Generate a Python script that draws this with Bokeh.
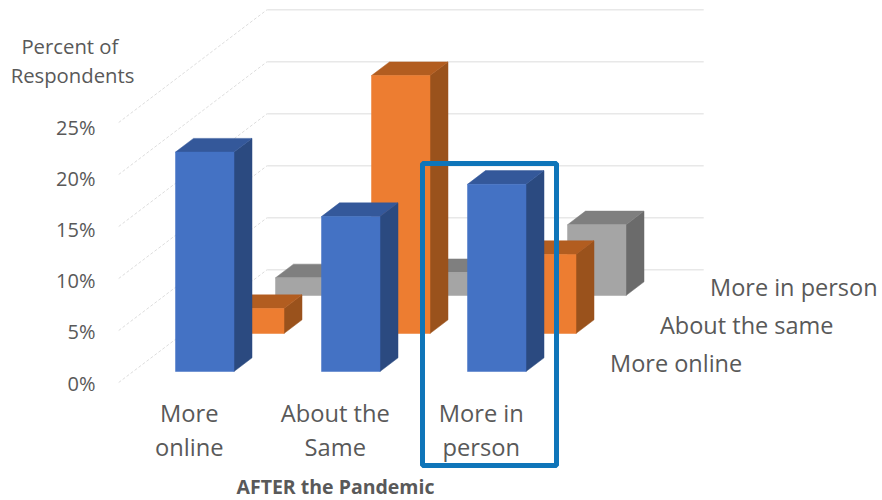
from bokeh.core.properties import value
from bokeh.embed import file_html
from bokeh.models import ColumnDataSource, FixedTicker, LinearAxis, Range1d
from bokeh.plotting import figure
from bokeh.resources import INLINE

# Survey results, percent of respondents
categories = ["More online", "About the Same", "More in person"]
category_line1 = ["More", "About the", "More in"]
category_line2 = ["online", "Same", "person"]
more_online = [21.1, 14.9, 18.0]
about_same = [2.4, 24.8, 7.6]
more_in_person = [1.7, 2.2, 6.8]
series_names = ["More online", "About the same", "More in person"]
percent_ticks = [0, 5, 10, 15, 20, 25]

FACE = ["#4472C4", "#ED7D31", "#A5A5A5"]
TOP = ["#34589A", "#B25D20", "#7F7F7F"]
SIDE = ["#2B4A80", "#9A521C", "#6B6B6B"]
TEXT = "#595959"
FONT = "Open Sans"

# Oblique projection: one category step, one percent and one depth row in pixels
CAT_PX, PCT_PX = 146.0, 10.4
ROW_DX, ROW_DY = 50.0 / CAT_PX, 38.0 / PCT_PX
BAR_W, BAR_D = 58.5 / CAT_PX, 0.36


def proj(cat, row, pct):
    return cat + row * ROW_DX, pct + row * ROW_DY


x_min, x_max = -175.0 / CAT_PX, 707.0 / CAT_PX
y_min, y_max = -129.0 / PCT_PX, 371.0 / PCT_PX

p = figure(width=882, height=500, output_backend="svg", toolbar_location=None,
           x_range=Range1d(x_min, x_max), y_range=Range1d(y_min, y_max),
           min_border=0, outline_line_color=None)
p.xaxis.visible = False
p.yaxis.visible = False
p.xgrid.visible = False
p.ygrid.visible = False

# Back wall gridlines and the receding lines on the side wall
WALL_FRONT, WALL_BACK = -0.29, 2.68
WALL_LEFT, WALL_RIGHT = -0.29, 2.70
for t in percent_ticks:
    x0, y0 = proj(WALL_LEFT, WALL_FRONT, t)
    x1, y1 = proj(WALL_LEFT, WALL_BACK, t)
    x2, y2 = proj(WALL_RIGHT, WALL_BACK, t)
    p.line([x0, x1], [y0, y1], line_color="#DDDDDD", line_width=1, line_dash="3 2")
    p.line([x1, x2], [y1, y2], line_color="#E8E8E8", line_width=1.5)

# Bars, painted from the rear row forward
rows = [more_online, about_same, more_in_person]
for row in [2, 1, 0]:
    xs_face, ys_face, xs_top, ys_top, xs_side, ys_side = [], [], [], [], [], []
    for cat, pct in enumerate(rows[row]):
        corners = [proj(cat, row, 0), proj(cat + BAR_W, row, 0),
                   proj(cat + BAR_W, row, pct), proj(cat, row, pct)]
        xs_face.append([c[0] for c in corners])
        ys_face.append([c[1] for c in corners])
        corners = [proj(cat, row, pct), proj(cat + BAR_W, row, pct),
                   proj(cat + BAR_W, row + BAR_D, pct), proj(cat, row + BAR_D, pct)]
        xs_top.append([c[0] for c in corners])
        ys_top.append([c[1] for c in corners])
        corners = [proj(cat + BAR_W, row, 0), proj(cat + BAR_W, row + BAR_D, 0),
                   proj(cat + BAR_W, row + BAR_D, pct), proj(cat + BAR_W, row, pct)]
        xs_side.append([c[0] for c in corners])
        ys_side.append([c[1] for c in corners])
    p.patches(xs_side, ys_side, fill_color=SIDE[row], line_color=SIDE[row], line_width=0.5)
    p.patches(xs_top, ys_top, fill_color=TOP[row], line_color=TOP[row], line_width=0.5)
    p.patches(xs_face, ys_face, fill_color=FACE[row], line_color=FACE[row], line_width=0.5)

# Percent axis sits in front of the side wall
AXIS_PX_ZERO, AXIS_PX_PCT = 382.5, 10.24
p.extra_y_ranges = {"percent": Range1d((AXIS_PX_ZERO - 500.0) / AXIS_PX_PCT,
                                       AXIS_PX_ZERO / AXIS_PX_PCT)}
axis = LinearAxis(y_range_name="percent", ticker=FixedTicker(ticks=percent_ticks),
                  fixed_location=(103.0 - 175.0) / CAT_PX,
                  major_label_overrides={t: f"{t}%" for t in percent_ticks},
                  major_label_text_font=FONT, major_label_text_font_size="20px",
                  major_label_text_color=TEXT, major_label_standoff=2,
                  axis_line_color=None, major_tick_line_color=None,
                  minor_tick_line_color=None)
p.add_layout(axis, "left")

# Axis caption above the percent scale
caption_x = (72.0 - 175.0) / CAT_PX
p.text([caption_x, caption_x], [(371.0 - 45.0) / PCT_PX, (371.0 - 74.0) / PCT_PX],
       text=["Percent  of", "Respondents"], text_align="center", text_baseline="middle",
       text_font=value(FONT), text_font_size="20.3px", text_color=TEXT)

# Two-line category labels under the floor
LABEL_SHIFT = -15.5 / CAT_PX
cats = list(range(len(categories)))
for lines, px in ((category_line1, 412.5), (category_line2, 446.5)):
    src = ColumnDataSource(dict(x=[c + BAR_W / 2 + LABEL_SHIFT for c in cats],
                                y=[(371.0 - px) / PCT_PX] * len(cats), t=lines))
    p.text("x", "y", text="t", source=src, text_align="center", text_baseline="middle",
           text_font=value(FONT), text_font_size="23.7px", text_color=TEXT)

# Depth labels, one per row, to the right of the floor
for row, name in enumerate(series_names):
    x, y = proj((609.5 - 175.0) / CAT_PX, row, 0.0)
    p.text([x], [y + (371.0 - 362.5) / PCT_PX], text=[name], text_align="left",
           text_baseline="middle", text_font=value(FONT), text_font_size="23.5px",
           text_color=TEXT)

# Axis title below the categories
p.text([(335.0 - 175.0) / CAT_PX], [(371.0 - 486.0) / PCT_PX], text=["AFTER the Pandemic"],
       text_align="center", text_baseline="middle", text_font=value(FONT),
       text_font_style="bold", text_font_size="19.5px", text_color=TEXT)

# Highlight frame around the last category
p.quad(left=2 - 45.0 / CAT_PX, right=2 + 89.0 / CAT_PX,
       top=(371.0 - 163.0) / PCT_PX, bottom=(371.0 - 465.0) / PCT_PX,
       fill_color=None, line_color="#0F75B9", line_width=5)

open("out.html", "w").write(file_html(p, INLINE))
